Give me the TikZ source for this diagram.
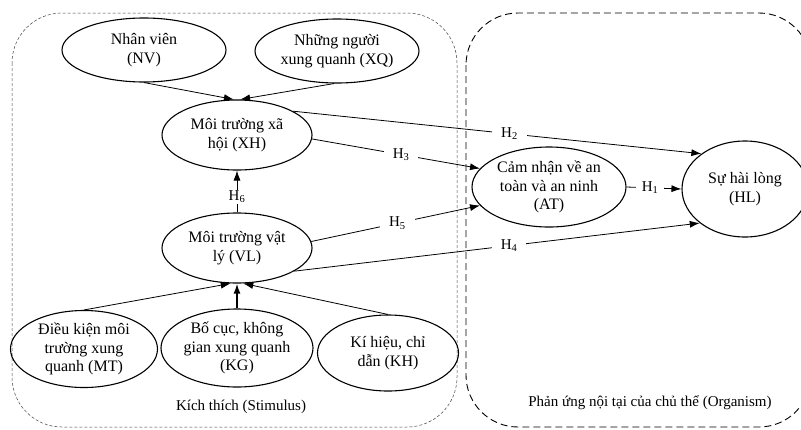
\documentclass[tikz,border=0pt]{standalone}
\usepackage{fontspec}
\setmainfont{Liberation Serif}
\usepackage{tikz}
\usetikzlibrary{shapes}
\usetikzlibrary{arrows.meta}

\begin{document}
\begin{tikzpicture}[x=1pt, y=-1pt,
		factor/.style={draw, ellipse, line width=1.1pt, align=center, inner sep=0pt, font=\fontsize{16}{18.5}\selectfont},
		link/.style={line width=0.8pt, -{Latex[length=10pt,width=7pt]}},
		hyp/.style={fill=white, inner xsep=9pt, inner ysep=1pt, font=\fontsize{15}{18}\selectfont},
		group/.style={font=\fontsize{15}{18}\selectfont}]
	\useasboundingbox (0,0) rectangle (801,429);

	% two frames
	\draw[black!75, line width=0.5pt, dash pattern=on 3pt off 2pt, rounded corners=50pt] (12,13) rectangle (457,427);
	\draw[line width=0.9pt, dash pattern=on 7pt off 4pt, rounded corners=52pt] (466,13) rectangle (811,427);
	\node[group] (stim) at (241,407) {Kích thích (Stimulus)};
	\node[group] (org) at (650,403) {Phản ứng nội tại của chủ thể (Organism)};

	% factors
	\node[factor, minimum width=164pt, minimum height=64pt] (NV) at (144,50) {Nhân viên\\(NV)};
	\node[factor, minimum width=164pt, minimum height=64pt] (XQ) at (337,51) {Những người\\xung quanh (XQ)};
	\node[factor, minimum width=150pt, minimum height=70pt] (XH) at (237,135) {Môi trường xã\\hội (XH)};
	\node[factor, minimum width=150pt, minimum height=70pt] (VL) at (237,248) {Môi trường vật\\lý (VL)};
	\node[factor, minimum width=147pt, minimum height=77pt] (MT) at (84,349) {Điều kiện môi\\trường xung\\quanh (MT)};
	\node[factor, minimum width=152pt, minimum height=78pt] (KG) at (237,348) {Bố cục, không\\gian xung quanh\\(KG)};
	\node[factor, minimum width=141pt, minimum height=76pt] (KH) at (388,353) {Kí hiệu, chỉ\\dẫn (KH)};
	\node[factor, minimum width=154pt, minimum height=80pt] (AT) at (549,187) {Cảm nhận về an\\toàn và an ninh\\(AT)};
	\node[factor, minimum width=126pt, minimum height=96pt] (HL) at (745,189) {Sự hài lòng\\(HL)};

	% paths
	\draw[link] (NV.south) -- (XH.95);
	\draw[link] (XQ.265) -- (XH.85);
	\draw[link] (MT.north) -- (VL.260);
	\draw[link, line width=1.6pt] (KG.north) -- (VL.south);
	\draw[link] (KH.north) -- (VL.280);
	\draw[link] (VL.north) -- node[hyp, pos=0.37, inner xsep=2pt] {H\textsubscript{6}} (XH.south);
	\draw[link] (XH.23) -- node[hyp, pos=0.53] {H\textsubscript{2}} (HL.141);
	\draw[link] (XH.-3) -- node[hyp, pos=0.53] {H\textsubscript{3}} (AT.165);
	\draw[link] (VL.5) -- node[hyp, pos=0.51] {H\textsubscript{5}} (AT.195);
	\draw[link] (VL.-22) -- node[hyp, pos=0.53] {H\textsubscript{4}} (HL.217);
	\draw[link] (AT.east) -- node[hyp, pos=0.43, inner xsep=6pt] {H\textsubscript{1}} (HL.west);
\end{tikzpicture}
\end{document}
